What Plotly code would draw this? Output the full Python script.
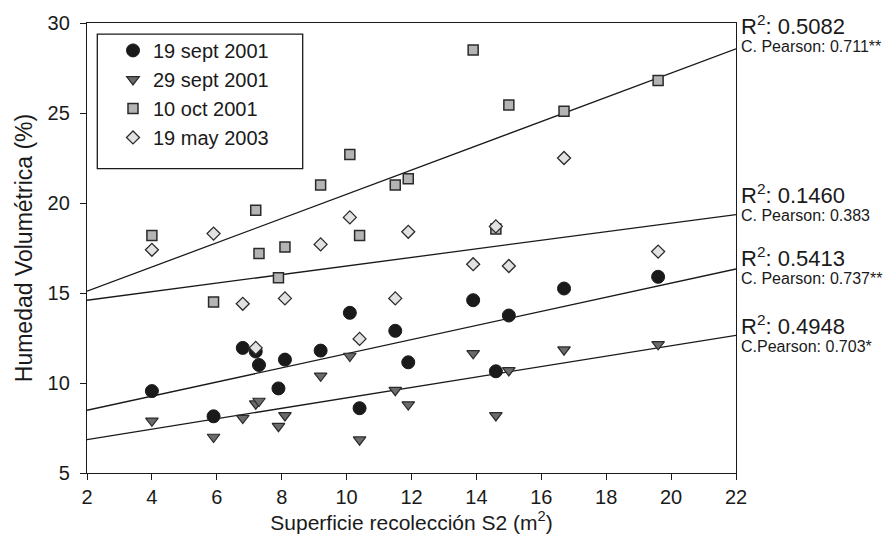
import plotly.graph_objects as go

# ---------------- data ----------------
sept19_x = [4.0, 5.9, 6.8, 7.2, 7.3, 7.9, 8.1, 9.2, 10.1, 10.4, 11.5, 11.9, 13.9, 14.6, 15.0, 16.7, 19.6]
sept19_y = [9.55, 8.15, 11.95, 11.75, 11.0, 9.7, 11.3, 11.8, 13.9, 8.6, 12.9, 11.15, 14.6, 10.65, 13.75, 15.25, 15.9]

sept29_x = [4.0, 5.9, 6.8, 7.2, 7.3, 7.9, 8.1, 9.2, 10.1, 10.4, 11.5, 11.9, 13.9, 14.6, 15.0, 16.7, 19.6]
sept29_y = [7.9, 7.0, 8.05, 8.85, 9.0, 7.6, 8.2, 10.4, 11.5, 6.85, 9.6, 8.8, 11.65, 8.2, 10.7, 11.85, 12.15]

oct10_x = [4.0, 5.9, 7.2, 7.3, 7.9, 8.1, 9.2, 10.1, 10.4, 11.5, 11.9, 13.9, 14.6, 15.0, 16.7, 19.6]
oct10_y = [18.2, 14.5, 19.6, 17.2, 15.85, 17.55, 21.0, 22.7, 18.2, 21.0, 21.35, 28.5, 18.55, 25.45, 25.1, 26.8]

may19_x = [4.0, 5.9, 6.8, 7.2, 8.1, 9.2, 10.1, 10.4, 11.5, 11.9, 13.9, 14.6, 15.0, 16.7, 19.6]
may19_y = [17.4, 18.3, 14.4, 11.95, 14.7, 17.7, 19.2, 12.45, 14.7, 18.4, 16.6, 18.7, 16.5, 22.5, 17.3]

series_names = ["19 sept 2001", "29 sept 2001", "10 oct 2001", "19 may 2003"]

# regression lines (intercept, slope), drawn over x = 2..22
fit_intercept = [7.70, 6.28, 13.75, 14.12]
fit_slope = [0.3925, 0.2895, 0.6735, 0.238]
fit_x = [2, 22]

r2_labels = ["0.5413", "0.4948", "0.5082", "0.1460"]
pearson_labels = ["C. Pearson: 0.737**", "C.Pearson: 0.703*", "C. Pearson: 0.711**", "C. Pearson: 0.383"]

x_ticks = [2, 4, 6, 8, 10, 12, 14, 16, 18, 20, 22]
y_ticks = [5, 10, 15, 20, 25, 30]

# ---------------- figure ----------------
FONT = "Liberation Sans, Arial, sans-serif"
INK = "#1a1a1a"
fig = go.Figure()

xs = [sept19_x, sept29_x, oct10_x, may19_x]
ys = [sept19_y, sept29_y, oct10_y, may19_y]

for a, b in zip(fit_intercept, fit_slope):
    fig.add_trace(go.Scatter(
        x=fit_x, y=[a + b * v for v in fit_x], mode="lines",
        line=dict(color=INK, width=1.3), showlegend=False, hoverinfo="skip"))

styles = [
    dict(symbol="circle", size=13, color=INK, line=dict(color=INK, width=1)),
    dict(symbol="triangle-down", size=11, color="#6b6b6b", line=dict(color="#2a2a2a", width=1.2)),
    dict(symbol="square", size=10, color="#b4b4b4", line=dict(color="#2a2a2a", width=1.5)),
    dict(symbol="diamond", size=10, color="#e2e2e2", line=dict(color="#2a2a2a", width=1.3)),
]
for i in range(4):
    fig.add_trace(go.Scatter(x=xs[i], y=ys[i], mode="markers", name=series_names[i],
                             marker=styles[i]))

# label block centres (style constants, data-y units)
label_y = [16.58, 12.80, 29.45, 20.03]
for i in range(4):
    txt = ('<span style="font-size:22px">R<sup>2</sup>: ' + r2_labels[i] + '</span><br>'
           '<span style="font-size:16px">' + pearson_labels[i] + '</span>')
    fig.add_annotation(xref="paper", yref="y", x=1.0, y=label_y[i], xanchor="left",
                       yanchor="middle", align="left", xshift=3, showarrow=False, text=txt,
                       font=dict(family=FONT, size=14, color=INK))

# legend frame
fig.add_shape(type="rect", xref="paper", yref="paper",
              x0=(97.3 - 87) / 649, x1=(302.7 - 87) / 649,
              y0=1 - (165 - 18) / 454.5, y1=1 - (29.3 - 18) / 454.5,
              line=dict(color=INK, width=1.3), fillcolor="rgba(0,0,0,0)")

axis_common = dict(showline=True, linecolor=INK, linewidth=1.3, mirror=True,
                   ticks="outside", ticklen=6, tickwidth=1.3, tickcolor=INK,
                   showgrid=False, zeroline=False,
                   tickfont=dict(family=FONT, size=20, color=INK))

fig.update_layout(
    width=890, height=540,
    margin=dict(l=87, r=154, t=18, b=67),
    paper_bgcolor="white", plot_bgcolor="white",
    font=dict(family=FONT, color=INK),
    xaxis=dict(range=[2, 22], tickvals=x_ticks,
               title=dict(text="Superficie recolección S2 (m<sup>2</sup>)",
                          font=dict(family=FONT, size=21, color=INK), standoff=4),
               **axis_common),
    yaxis=dict(range=[5, 30], tickvals=y_ticks, ticklabelstandoff=6,
               title=dict(text="Humedad Volumétrica (%)",
                          font=dict(family=FONT, size=23, color=INK), standoff=8),
               **axis_common),
    legend=dict(x=(113 - 87) / 649, y=1 - (26 - 18) / 454.5, xanchor="left", yanchor="top",
                bgcolor="rgba(0,0,0,0)", borderwidth=0,
                font=dict(family=FONT, size=20, color=INK), tracegroupgap=0),
    showlegend=True,
)

fig.write_html("out.html")
